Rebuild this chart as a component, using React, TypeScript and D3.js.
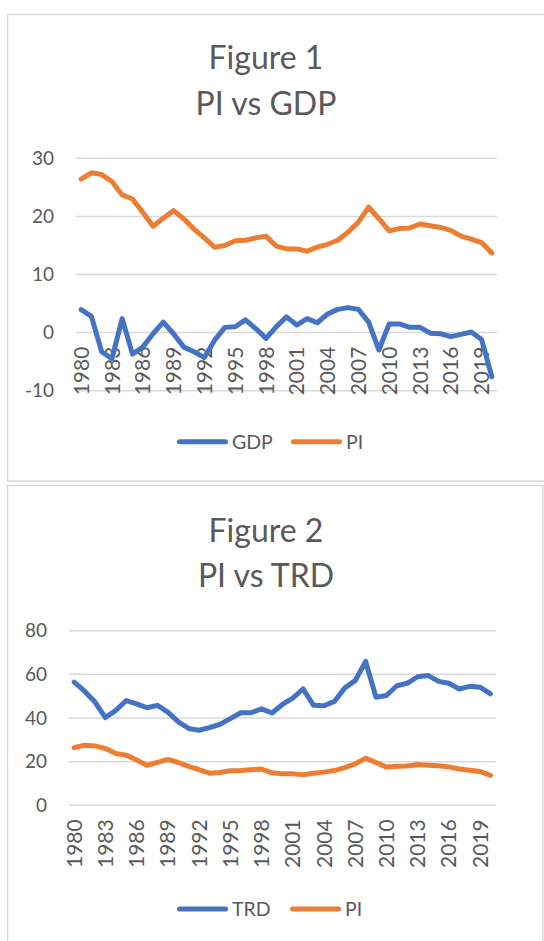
import React, { useEffect, useRef } from "react";
import * as d3 from "d3";

const years = [
  "1980", "1981", "1982", "1983", "1984", "1985", "1986", "1987", "1988", "1989",
  "1990", "1991", "1992", "1993", "1994", "1995", "1996", "1997", "1998", "1999",
  "2000", "2001", "2002", "2003", "2004", "2005", "2006", "2007", "2008", "2009",
  "2010", "2011", "2012", "2013", "2014", "2015", "2016", "2017", "2018", "2019",
  "2020",
];

const gdp = [
  3.95, 2.8, -3.3, -4.5, 2.4, -3.7, -2.5, -0.2, 1.8, -0.2,
  -2.5, -3.3, -4.3, -1.3, 0.9, 1.0, 2.2, 0.7, -1.0, 1.0,
  2.7, 1.3, 2.4, 1.7, 3.2, 4.0, 4.3, 4.0, 1.8, -3.0,
  1.5, 1.5, 0.9, 0.9, -0.1, -0.2, -0.7, -0.3, 0.1, -1.2,
  -7.6,
];

const pi = [
  26.4, 27.5, 27.2, 26.0, 23.7, 23.0, 20.7, 18.3, 19.7, 21.0,
  19.6, 17.8, 16.3, 14.7, 15.0, 15.8, 15.9, 16.3, 16.6, 14.9,
  14.4, 14.4, 14.0, 14.7, 15.2, 15.9, 17.3, 19.0, 21.6, 19.6,
  17.5, 17.9, 18.0, 18.7, 18.4, 18.1, 17.6, 16.6, 16.1, 15.5,
  13.7,
];

const trd = [
  56.4, 52.3, 47.3, 40.2, 43.5, 48.0, 46.5, 44.7, 45.8, 42.7,
  38.2, 35.2, 34.4, 35.6, 37.1, 39.7, 42.4, 42.4, 44.2, 42.3,
  46.2, 49.1, 53.3, 45.8, 45.6, 47.6, 53.8, 57.1, 65.9, 49.5,
  50.3, 54.8, 55.9, 58.9, 59.5, 56.8, 55.9, 53.3, 54.5, 54.1,
  51.1,
];

const fig1Ticks = [-10, 0, 10, 20, 30];
const fig2Ticks = [0, 20, 40, 60, 80];

const BLUE = "#4472c4";
const ORANGE = "#ed7d31";
const TEXT = "#595959";
const GRID = "#d9d9d9";
const FONT = "Lato, 'Open Sans', sans-serif";

// one Excel-like chart box
const drawPanel = (svg, cfg) => {
  const g = svg.append("g");

  g.append("rect")
    .attr("x", cfg.box.x)
    .attr("y", cfg.box.y)
    .attr("width", cfg.box.w)
    .attr("height", cfg.box.h)
    .attr("fill", "#fff")
    .attr("stroke", GRID)
    .attr("stroke-width", 1.5);

  g.selectAll("text.title")
    .data(cfg.title)
    .enter()
    .append("text")
    .attr("class", "title")
    .attr("x", cfg.titleX)
    .attr("y", (d, i) => cfg.titleY[i])
    .attr("text-anchor", "middle")
    .style("font-family", FONT)
    .style("font-size", "32px")
    .style("fill", TEXT)
    .text(d => d);

  const x = d3.scaleBand().domain(years).range([cfg.left, cfg.right]).padding(0);
  const y = d3.scaleLinear().domain(cfg.domain).range([cfg.bottom, cfg.top]);
  const cx = d => x(d) + x.bandwidth() / 2;

  // gridlines
  g.append("g")
    .selectAll("line")
    .data(cfg.ticks)
    .enter()
    .append("line")
    .attr("x1", cfg.left)
    .attr("x2", cfg.right)
    .attr("y1", d => y(d))
    .attr("y2", d => y(d))
    .attr("stroke", GRID)
    .attr("stroke-width", 1.5);

  // value labels
  g.append("g")
    .selectAll("text")
    .data(cfg.ticks)
    .enter()
    .append("text")
    .attr("x", cfg.left - 22)
    .attr("y", d => y(d))
    .attr("dy", "0.35em")
    .attr("text-anchor", "end")
    .style("font-family", FONT)
    .style("font-size", "19px")
    .style("fill", TEXT)
    .text(d => d);

  // year labels, every third one, rotated
  const shown = years.filter((d, i) => i % 3 === 0);
  const labelTop = y(0) + 14;
  g.append("g")
    .selectAll("text")
    .data(shown)
    .enter()
    .append("text")
    .attr("transform", d => `translate(${cx(d)},${labelTop}) rotate(-90)`)
    .attr("dy", "0.36em")
    .attr("text-anchor", "end")
    .style("font-family", FONT)
    .style("font-size", "21px")
    .style("fill", TEXT)
    .text(d => d);

  const line = d3
    .line()
    .x((d, i) => cx(years[i]))
    .y(d => y(d));

  cfg.series.forEach(s => {
    g.append("path")
      .datum(s.values)
      .attr("d", line)
      .attr("fill", "none")
      .attr("stroke", s.color)
      .attr("stroke-width", 5)
      .attr("stroke-linejoin", "round")
      .attr("stroke-linecap", "round");
  });

  // legend
  const leg = g.append("g");
  cfg.series.forEach((s, i) => {
    const lx = cfg.legendX[i];
    leg.append("line")
      .attr("x1", lx + 2.5)
      .attr("x2", lx + 48.5)
      .attr("y1", cfg.legendY)
      .attr("y2", cfg.legendY)
      .attr("stroke", s.color)
      .attr("stroke-width", 5)
      .attr("stroke-linecap", "round");
    leg.append("text")
      .attr("x", lx + 55)
      .attr("y", cfg.legendY)
      .attr("dy", "0.35em")
      .style("font-family", FONT)
      .style("font-size", "19.5px")
      .style("fill", TEXT)
      .text(s.name);
  });
};

export default function App() {
  const ref = useRef(null);

  useEffect(() => {
    const svg = d3.select(ref.current);
    svg.selectAll("*").remove();

    drawPanel(svg, {
      box: { x: 7.5, y: 14.5, w: 560, h: 466.5 },
      title: ["Figure 1", "PI vs GDP"],
      titleX: 266,
      titleY: [69, 115],
      left: 76,
      right: 497,
      top: 158.3,
      bottom: 390.7,
      domain: [-10, 30],
      ticks: fig1Ticks,
      series: [
        { name: "GDP", values: gdp, color: BLUE },
        { name: "PI", values: pi, color: ORANGE },
      ],
      legendX: [177, 291],
      legendY: 441.7,
    });

    drawPanel(svg, {
      box: { x: 7.5, y: 485.5, w: 535.5, h: 470 },
      title: ["Figure 2", "PI vs TRD"],
      titleX: 266,
      titleY: [541.7, 586.7],
      left: 69,
      right: 495.7,
      top: 630.7,
      bottom: 805.3,
      domain: [0, 80],
      ticks: fig2Ticks,
      series: [
        { name: "TRD", values: trd, color: BLUE },
        { name: "PI", values: pi, color: ORANGE },
      ],
      legendX: [177, 290],
      legendY: 909,
    });
  }, []);

  return (
    <svg
      ref={ref}
      width={544}
      height={941}
      style={{ position: "absolute", left: 0, top: 0, background: "#fff" }}
    />
  );
}
